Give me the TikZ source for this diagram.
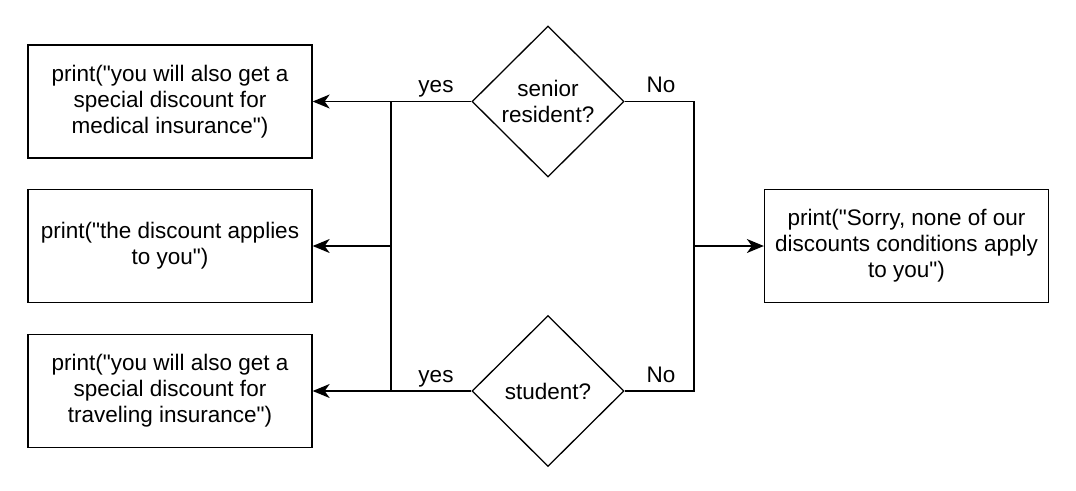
\documentclass[tikz,border=0pt]{standalone}
\usepackage{fontspec}
\newfontfamily\lib{Liberation Sans}
\usetikzlibrary{shapes.geometric,arrows.meta}
\begin{document}
\begin{tikzpicture}[x=1pt,y=-1pt,
  every node/.style={font=\lib\fontsize{22.5}{26}\selectfont},
  box/.style={draw,line width=1.3pt,minimum width=284pt,minimum height=113pt,align=center,inner sep=0pt},
  dec/.style={draw,diamond,line width=1.3pt,minimum width=152pt,minimum height=151pt,inner sep=0pt,align=center},
  conn/.style={line width=1.3pt},
  arr/.style={conn,-{Stealth[length=17pt,width=14pt,inset=5pt]}},
  lab/.style={inner sep=0pt,anchor=base}]
\useasboundingbox (0,0) rectangle (1076,490);
\node[box] (b1) at (170,101.5) {print("you will also get a\\special discount for\\medical insurance")};
\node[box] (b2) at (170,246) {print("the discount applies\\to you")};
\node[box] (b3) at (170,391) {print("you will also get a\\special discount for\\traveling insurance")};
\node[box] (r) at (906.5,246) {print("Sorry, none of our\\discounts conditions apply\\to you")};
\node[dec] (d1) at (548,101.5) {senior\\resident?};
\node[dec] (d2) at (548,391) {student?};
\coordinate (jl1) at (391,101.5);
\coordinate (jl2) at (391,246);
\coordinate (jl3) at (391,391);
\coordinate (jr1) at (694,101.5);
\coordinate (jr2) at (694,246);
\coordinate (jr3) at (694,391);
\draw[arr] (d1.west) -- (jl1) -- (b1.east);
\draw[arr] (d2.west) -- (jl3) -- (b3.east);
\draw[conn] (jl1) -- (jl3);
\draw[arr] (jl2) -- (b2.east);
\draw[conn] (d1.east) -- (jr1) -- (jr3) -- (d2.east);
\draw[arr] (jr2) -- (r.west);
\node[lab] (y1) at (436,92) {yes};
\node[lab] (y2) at (436,382) {yes};
\node[lab] (n1) at (661,92) {No};
\node[lab] (n2) at (661,382) {No};
\end{tikzpicture}
\end{document}
